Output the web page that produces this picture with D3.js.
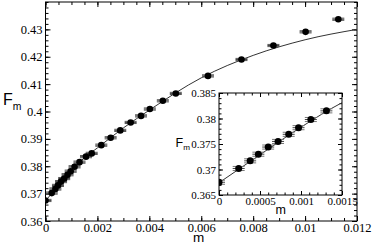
<!DOCTYPE html>
<html>
<head>
<meta charset="utf-8">
<script src="https://cdn.jsdelivr.net/npm/d3@7"></script>
<style>
  body { margin: 0; background: #fff; }
  svg { display: block; }
  .tick text { font-family: "Liberation Serif", "Times New Roman", serif; fill: #000; }
  .domain { display: none; }
  .tick line { stroke: #000; }
</style>
</head>
<body>
<div id="chart"></div>
<script>
'use strict';

// data points (m, F_m)
var mVals = [0, 0.00024, 0.00038, 0.00048, 0.0006, 0.00072, 0.00085, 0.00097, 0.00112, 0.00131,
    0.00156, 0.00178, 0.00215, 0.00251, 0.00288, 0.00328, 0.00368, 0.00402, 0.00452, 0.00502,
    0.00626, 0.00755, 0.00878, 0.01002, 0.01128];
var fVals = [0.3675, 0.3702, 0.3717, 0.3730, 0.3744, 0.3755, 0.3769, 0.3782, 0.3798, 0.3815,
    0.3835, 0.3847, 0.3877, 0.3904, 0.3931, 0.3960, 0.3984, 0.4009, 0.4039, 0.4066,
    0.4130, 0.4190, 0.4241, 0.4291, 0.4337];
var fErr = [0.0004, 0.0004, 0.0004, 0.0004, 0.0004, 0.0004, 0.0004, 0.0004, 0.0004, 0.0004,
    0.0004, 0.0004, 0.0004, 0.0004, 0.0004, 0.0004, 0.0004, 0.0004, 0.0004, 0.0004,
    0.0004, 0.0004, 0.0004, 0.0004, 0.0004];

// fit curve samples
var fitM = [0, 0.0005, 0.001, 0.0015, 0.002, 0.003, 0.004, 0.006, 0.008, 0.010, 0.012];
var fitF = [0.3674, 0.3729, 0.3783, 0.3831, 0.3867, 0.3940, 0.4005, 0.4123, 0.4205, 0.4262, 0.4300];

// tick labels
var xTicks = [0, 0.002, 0.004, 0.006, 0.008, 0.01, 0.012];
var yTicks = [0.36, 0.37, 0.38, 0.39, 0.4, 0.41, 0.42, 0.43];
var insetXTicks = [0, 0.0005, 0.001, 0.0015];
var insetYTicks = [0.365, 0.37, 0.375, 0.38, 0.385];

var width = 374,
    height = 245;

var points = mVals.map(function (m, i) {
    return { m: m, f: fVals[i], e: fErr[i] };
});
var fit = fitM.map(function (m, i) {
    return { m: m, f: fitF[i] };
});

var svg = d3.select('#chart').append('svg')
    .attr('width', width)
    .attr('height', height);

var fmt = function (d) { return String(+d.toFixed(5)); };

var drawPanel = function (opts) {
    var x = d3.scaleLinear().domain(opts.xDomain).range([opts.left, opts.right]);
    var y = d3.scaleLinear().domain(opts.yDomain).range([opts.bottom, opts.top]);
    var g = svg.append('g');

    g.append('rect')
        .attr('x', opts.left).attr('y', opts.top)
        .attr('width', opts.right - opts.left).attr('height', opts.bottom - opts.top)
        .attr('fill', '#fff');

    var clipId = 'clip-' + opts.name;
    g.append('clipPath').attr('id', clipId).append('rect')
        .attr('x', opts.left).attr('y', opts.top)
        .attr('width', opts.right - opts.left).attr('height', opts.bottom - opts.top);

    // minor ticks
    var xMinor = d3.range(opts.xDomain[0], opts.xDomain[1] + opts.xMinor / 2, opts.xMinor);
    var yMinor = d3.range(opts.yDomain[0], opts.yDomain[1] + opts.yMinor / 2, opts.yMinor);

    var addAxis = function (axis, transform, cls) {
        g.append('g').attr('class', cls).attr('transform', transform).call(axis)
            .selectAll('text').style('font-size', opts.tickFont + 'px');
    };
    addAxis(d3.axisBottom(x).tickValues(xMinor).tickSize(-opts.minorLen).tickFormat(''), 'translate(0,' + opts.bottom + ')', 'minor');
    addAxis(d3.axisTop(x).tickValues(xMinor).tickSize(-opts.minorLen).tickFormat(''), 'translate(0,' + opts.top + ')', 'minor');
    addAxis(d3.axisLeft(y).tickValues(yMinor).tickSize(-opts.minorLen).tickFormat(''), 'translate(' + opts.left + ',0)', 'minor');
    addAxis(d3.axisRight(y).tickValues(yMinor).tickSize(-opts.minorLen).tickFormat(''), 'translate(' + opts.right + ',0)', 'minor');

    addAxis(d3.axisBottom(x).tickValues(opts.xTicks).tickSize(-opts.majorLen).tickPadding(opts.xPad).tickFormat(fmt), 'translate(0,' + opts.bottom + ')', 'major');
    addAxis(d3.axisTop(x).tickValues(opts.xTicks).tickSize(-opts.majorLen).tickFormat(''), 'translate(0,' + opts.top + ')', 'major');
    addAxis(d3.axisLeft(y).tickValues(opts.yTicks).tickSize(-opts.majorLen).tickPadding(opts.yPad).tickFormat(fmt), 'translate(' + opts.left + ',0)', 'major');
    addAxis(d3.axisRight(y).tickValues(opts.yTicks).tickSize(-opts.majorLen).tickFormat(''), 'translate(' + opts.right + ',0)', 'major');

    g.selectAll('.tick line').attr('stroke-width', 1);

    // frame
    g.append('rect')
        .attr('x', opts.left).attr('y', opts.top)
        .attr('width', opts.right - opts.left).attr('height', opts.bottom - opts.top)
        .attr('fill', 'none').attr('stroke', '#000').attr('stroke-width', 1);

    var plot = g.append('g').attr('clip-path', 'url(#' + clipId + ')');

    // fit line
    var line = d3.line()
        .x(function (d) { return x(d.m); })
        .y(function (d) { return y(d.f); })
        .curve(d3.curveMonotoneX);
    plot.append('path')
        .datum(fit)
        .attr('d', line)
        .attr('fill', 'none')
        .attr('stroke', '#333')
        .attr('stroke-width', 1);

    var pts = points.filter(function (d) { return d.m <= opts.xDomain[1]; });

    // error bars (caps)
    var bars = plot.selectAll('g.err').data(pts).enter().append('g').attr('class', 'err');
    [-1, 1].forEach(function (s) {
        bars.append('line')
            .attr('x1', function (d) { return x(d.m) - opts.capHalf; })
            .attr('x2', function (d) { return x(d.m) + opts.capHalf; })
            .attr('y1', function (d) { return y(d.f + s * d.e); })
            .attr('y2', function (d) { return y(d.f + s * d.e); })
            .attr('stroke', opts.capColor)
            .attr('stroke-width', 1);
    });
    bars.append('line')
        .attr('x1', function (d) { return x(d.m) - opts.capHalf; })
        .attr('x2', function (d) { return x(d.m) + opts.capHalf; })
        .attr('y1', function (d) { return y(d.f); })
        .attr('y2', function (d) { return y(d.f); })
        .attr('stroke', '#444')
        .attr('stroke-width', 1);

    plot.selectAll('circle').data(pts).enter().append('circle')
        .attr('cx', function (d) { return x(d.m); })
        .attr('cy', function (d) { return y(d.f); })
        .attr('r', opts.r)
        .attr('fill', '#000');

    return g;
};

drawPanel({
    name: 'main',
    left: 45.5, right: 357, top: 2, bottom: 221,
    xDomain: [0, 0.012], yDomain: [0.36, 0.44],
    xTicks: xTicks, yTicks: yTicks,
    xMinor: 0.0005, yMinor: 0.002,
    majorLen: 5, minorLen: 3,
    xPad: 2, yPad: 3, tickFont: 12.5,
    capHalf: 6, capColor: '#555', r: 3.3
});

drawPanel({
    name: 'inset',
    left: 219, right: 342, top: 93, bottom: 195,
    xDomain: [0, 0.0015], yDomain: [0.365, 0.385],
    xTicks: insetXTicks, yTicks: insetYTicks,
    xMinor: 0.0001, yMinor: 0.001,
    majorLen: 4, minorLen: 2.5,
    xPad: 2, yPad: 3, tickFont: 11,
    capHalf: 6, capColor: '#777', r: 3.5
});

// axis labels
var addLabel = function (x, y, size, main, sub) {
    var t = svg.append('text')
        .attr('x', x).attr('y', y)
        .style('font-family', '"Liberation Sans", Arial, sans-serif')
        .style('font-size', size + 'px')
        .attr('fill', '#000');
    t.append('tspan').text(main);
    if (sub) {
        t.append('tspan').attr('dy', size * 0.3).style('font-size', (size * 0.65) + 'px').text(sub);
    }
};
addLabel(3, 105, 16, 'F', 'm');
addLabel(193, 242, 13.5, 'm');
addLabel(175.5, 146.5, 12.5, 'F', 'm');
addLabel(275.5, 213.5, 12.5, 'm');
</script>
</body>
</html>
